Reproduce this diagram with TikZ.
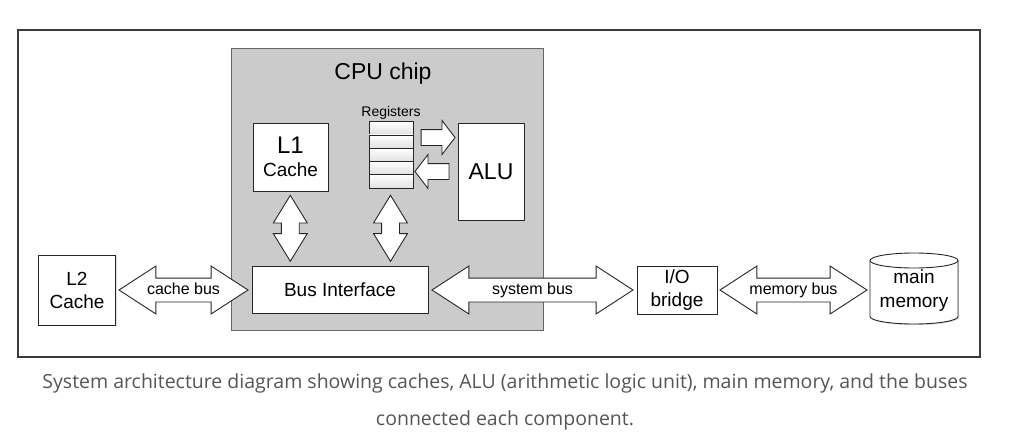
\documentclass[tikz,border=0pt]{standalone}
\usepackage{fontspec}
\setmainfont{Liberation Sans}
\newfontfamily\piefont{Open Sans}
\usetikzlibrary{shapes.arrows,shadows}
\definecolor{chipgris}{HTML}{CBCBCB}
\definecolor{marco}{HTML}{3A3A3A}
\definecolor{textopie}{HTML}{555555}
\tikzstyle{sombra} = [drop shadow={shadow xshift=1.2pt, shadow yshift=-1.2pt, opacity=0.25}]
\tikzstyle{caja} = [draw=black!85, fill=white, line width=0.9pt, inner sep=0pt, align=center, sombra, font=\fontsize{19}{23}\selectfont]
\tikzstyle{celda} = [draw=black!85, top color=white, bottom color=black!12, line width=0.9pt, inner sep=0pt, minimum width=44pt, minimum height=13.3pt]
\tikzstyle{flechabus} = [double arrow, draw=black!85, fill=white, line width=0.9pt, inner xsep=0pt, inner ysep=4.5pt, text height=11pt, text depth=3pt, double arrow head extend=12pt, double arrow tip angle=66, font=\fontsize{16}{18}\selectfont]
\tikzstyle{flechavert} = [double arrow, draw=black!85, fill=white, line width=0.9pt, rotate=90, inner xsep=0pt, inner ysep=8.5pt, double arrow head extend=8pt, double arrow tip angle=63, minimum height=66pt]
\tikzstyle{flechareg} = [single arrow, draw=black!85, fill=white, line width=0.9pt, inner xsep=0pt, inner ysep=7.5pt, single arrow head extend=9pt, single arrow tip angle=105, minimum height=34pt]
\tikzstyle{cilindro} = [draw=black!85, fill=white, line width=0.9pt]

\begin{document}
\begin{tikzpicture}[x=1pt, y=-1pt]
	\useasboundingbox (0,0) rectangle (1015,442);
	% marco y chip
	\node[draw=marco, line width=1.2pt, minimum width=962pt, minimum height=327pt] (marco) at (499,193.5) {};
	\node[draw=black!60, fill=chipgris, line width=1pt, minimum width=312pt, minimum height=282pt, inner sep=0pt] (cpu) at (387,189) {};
	\node[font=\fontsize{23}{25}\selectfont] (titulo) at (383,74) {CPU chip};
	% dentro del chip
	\node[caja, minimum width=75pt, minimum height=68pt] (l1) at (290.5,157) {{\fontsize{24}{24}\selectfont L1}\\Cache};
	\foreach \i in {1,...,5}
		\node[celda] (r\i) at (391,{115+13.3*\i}) {};
	\node[font=\fontsize{14}{16}\selectfont, inner sep=1pt, above=1pt] (nomreg) at (r1.north) {Registers};
	\node[caja, minimum width=66pt, minimum height=97pt, font=\fontsize{23}{25}\selectfont] (alu) at (491,171.5) {ALU};
	\node[flechareg] (aalu) at (435,137.5) {};
	\node[flechareg, shape border rotate=180] (areg) at (435,171.5) {};
	\node[caja, minimum width=176pt, minimum height=47pt] (bus) at (340,289.5) {Bus Interface};
	\node[flechavert] (l1bus) at (290.3,228.3) {};
	\node[flechavert] (regbus) at (390.5,228.3) {};
	% fuera del chip
	\node[caja, minimum width=77pt, minimum height=70pt] (l2) at (77,290) {L2\\Cache};
	\node[flechabus, minimum height=129pt] (cachebus) at (183.5,290) {cache bus};
	\node[flechabus, minimum height=201pt] (sysbus) at (532.5,290) {system bus};
	\node[caja, minimum width=80pt, minimum height=48pt] (io) at (677,290) {I/O\\bridge};
	\node[flechabus, minimum height=147pt] (membus) at (793.5,290) {memory bus};
	% memoria principal
	\coordinate (cmem) at (914,288.5);
	\draw[cilindro, sombra] ([shift={(-44pt,28pt)}]cmem) -- ([shift={(-44pt,-28pt)}]cmem)
		arc[start angle=180, end angle=360, x radius=44pt, y radius=7.5pt]
		-- ([shift={(44pt,28pt)}]cmem)
		arc[start angle=0, end angle=180, x radius=44pt, y radius=7.5pt] -- cycle;
	\draw[cilindro, fill=none] ([shift={(-44pt,28pt)}]cmem)
		arc[start angle=180, end angle=360, x radius=44pt, y radius=7.5pt];
	\node[align=center, font=\fontsize{19}{24}\selectfont, inner sep=0pt] (mem) at ([yshift=-2pt]cmem) {main\\memory};
	% pie de figura
	\node[font=\piefont\fontsize{19.5}{37}\selectfont, text=textopie, align=center] (pie) at (505,402) {System architecture diagram showing caches, ALU (arithmetic logic unit), main memory, and the buses\\connected each component.};
\end{tikzpicture}
\end{document}
